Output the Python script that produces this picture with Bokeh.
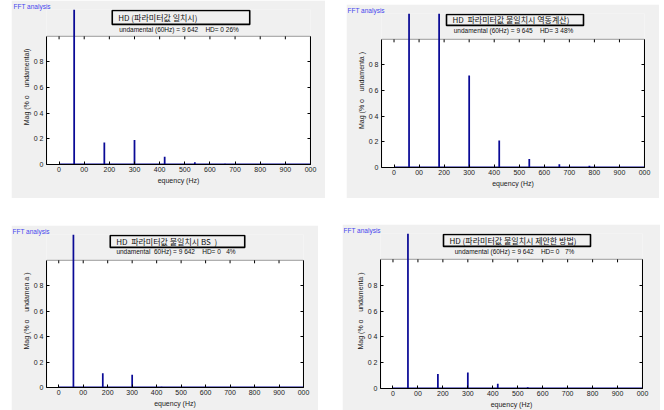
from bokeh.plotting import figure
from bokeh.models import Range1d, LinearAxis, FixedTicker, BoxAnnotation, Label, Spacer
from bokeh.layouts import row, column
from bokeh.embed import file_html
from bokeh.resources import INLINE

# ---------------- data ----------------
x_ticks = [0, 100, 200, 300, 400, 500, 600, 700, 800, 900, 1000]
x_tick_labels = ["0", "00", "200", "300", "400", "500", "600", "700", "800", "900", "000"]
y_ticks = [0, 0.2, 0.4, 0.6, 0.8]
y_tick_labels = ["0", "0 2", "0 4", "0 6", "0 8"]

harmonic_freqs = [60, 180, 300, 420, 540, 660, 780]
mag_p1 = [100, 0.171, 0.192, 0.060, 0.018, 0.005, 0.003]
mag_p2 = [100, 3.4, 0.718, 0.210, 0.067, 0.026, 0.013]
mag_p3 = [100, 0.112, 0.100, 0.006, 0.003, 0.002, 0.002]
mag_p4 = [100, 0.113, 0.123, 0.036, 0.010, 0.004, 0.003]

floor_span = [0, 1000]
floor_p1 = 0.008
floor_p2 = 0.008
floor_p3 = 0.008
floor_p4 = 0.008

titles = ["HD (파라미터값 일치시)",
          "HD  파라미터값 불일치시 역동계산)",
          "HD  파라미터값 불일치시 BS  )",
          "HD (파라미터값 불일치시 제안한 방법)"]
subtitles = ["undamental (60Hz) = 9 642    HD= 0 26%",
             "undamental (60Hz) = 9 645    HD= 3 48%",
             "undamental  60Hz) = 9 642    HD= 0   4%",
             "undamental (60Hz) = 9 642    HD= 0   7%"]
y_labels = ["Mag (% o    undamental)",
            "Mag (% o    undamenta )",
            "Mag (% o    undamen a )",
            "Mag (% o    undamenta )"]
x_label = "equency (Hz)"
group_label = "FFT analysis"

# ---------------- styling / geometry ----------------
PANEL_BG = "#f0f0f0"
BAR_COLOR = "#0a0a96"
LABEL_BLUE = "#4646ee"
FONT = "Liberation Sans"
KFONT = "Noto Sans CJK KR"
X0, X1 = -50, 1000


def keep_spaces(s):
    # keep runs of spaces visible in SVG text
    return s.replace("  ", " \u00a0")


# canvas (left, top, right, bottom), frame (left, top, right, bottom), y=1 pixel,
# title box (l, t, r, b), subtitle (cx, cy)
geoms = [
    dict(c=(11, 0, 325, 198), f=(45, 8, 310, 164), y1=35, box=(111, 9, 249, 23), sub=(178, 28)),
    dict(c=(346, 4, 659, 198), f=(381, 12, 644, 167), y1=38, box=(446, 13, 583, 24), sub=(513, 29)),
    dict(c=(11, 225, 318, 410), f=(46, 233, 304, 387), y1=259, box=(110, 234, 245, 246), sub=(176, 250)),
    dict(c=(342, 224, 660, 410), f=(380, 232, 642, 388), y1=258, box=(443, 233, 590, 245), sub=(514, 250)),
]


def make_panel(i, mags, floor):
    g = geoms[i]
    cl, ct, cr, cb = g["c"]
    fl, ft, fr, fb = g["f"]
    ppu = fb - g["y1"]

    def px2x(px):
        return X0 + (px - fl) / (fr - fl) * (X1 - X0)

    def px2y(py):
        return (fb - py) / ppu

    p = figure(width=cr - cl, height=cb - ct, output_backend="svg", toolbar_location=None,
               x_range=Range1d(X0, X1), y_range=Range1d(0, (fb - ft) / ppu),
               min_border_left=fl - cl, min_border_right=cr - fr,
               min_border_top=ft - ct, min_border_bottom=cb - fb,
               background_fill_color=PANEL_BG, border_fill_color=PANEL_BG,
               outline_line_color=None)
    p.grid.visible = False

    p.title.text = group_label
    p.title.align = "left"
    p.title.text_font = FONT
    p.title.text_font_size = "6.5px"
    p.title.text_font_style = "normal"
    p.title.text_color = LABEL_BLUE
    p.title.offset = -(fl - cl) + 1
    p.title.standoff = 0

    # white axes box
    p.add_layout(BoxAnnotation(left=X0, right=X1, bottom=0, top=1, fill_color="white",
                               fill_alpha=1, line_color="black", line_width=1.2, level="underlay"))

    # title box and texts
    bl, bt, br, bb = g["box"]
    p.add_layout(BoxAnnotation(left=px2x(bl), right=px2x(br), bottom=px2y(bb), top=px2y(bt),
                               fill_color=PANEL_BG, fill_alpha=1, line_color="black",
                               line_alpha=1, line_width=1.6, level="underlay"))
    p.add_layout(Label(x=px2x(bl + 6), y=px2y((bt + bb) / 2), text=keep_spaces(titles[i]),
                       text_font=KFONT, text_font_size="8px", text_baseline="middle",
                       text_align="left", text_color="#111111"))
    sx, sy = g["sub"]
    p.add_layout(Label(x=px2x(sx), y=px2y(sy), text=keep_spaces(subtitles[i]), text_font=FONT,
                       text_font_size="6.5px", text_baseline="middle", text_align="center",
                       text_color="#111111"))

    # data
    p.quad(left=[floor_span[0]], right=[floor_span[1]], bottom=[0], top=[floor],
           fill_color=BAR_COLOR, line_color=None)
    p.vbar(x=harmonic_freqs, top=mags, bottom=0, width=7, fill_color=BAR_COLOR,
           line_color=None)

    # top ticks
    tick_len = 3 / ppu
    p.segment(x0=x_ticks, y0=[1] * len(x_ticks), x1=x_ticks,
              y1=[1 - tick_len] * len(x_ticks), line_color="black", line_width=1)

    # axes
    xa = p.xaxis[0]
    xa.ticker = FixedTicker(ticks=x_ticks)
    xa.major_label_overrides = dict(zip(x_ticks, x_tick_labels))
    xa.axis_label = x_label
    ya = p.yaxis[0]
    ya.ticker = FixedTicker(ticks=y_ticks)
    ya.major_label_overrides = dict(zip(y_ticks, y_tick_labels))
    ya.axis_label = keep_spaces(y_labels[i])
    ya.bounds = (0, 1)
    for ax in (xa, ya):
        ax.major_tick_in = 3
        ax.major_tick_out = 0
        ax.minor_tick_in = 0
        ax.minor_tick_out = 0
        ax.axis_line_color = "black"
        ax.major_tick_line_color = "black"
        ax.major_label_text_font = FONT
        ax.major_label_text_font_size = "7px"
        ax.major_label_text_color = "#222222"
        ax.axis_label_text_font = FONT
        ax.axis_label_text_font_size = "7px"
        ax.axis_label_text_font_style = "normal"
        ax.axis_label_text_color = "#222222"
        ax.major_label_standoff = 2
        ax.axis_label_standoff = 2
    ya.major_label_standoff = 3
    ya.axis_label_standoff = 1

    ra = LinearAxis(ticker=FixedTicker(ticks=y_ticks), bounds=(0, 1))
    ra.major_tick_in = 3
    ra.major_tick_out = 0
    ra.minor_tick_in = 0
    ra.minor_tick_out = 0
    ra.major_label_text_font_size = "0px"
    ra.major_label_text_color = None
    ra.axis_line_color = "black"
    p.add_layout(ra, "right")
    return p


p1 = make_panel(0, mag_p1, floor_p1)
p2 = make_panel(1, mag_p2, floor_p2)
p3 = make_panel(2, mag_p3, floor_p3)
p4 = make_panel(3, mag_p4, floor_p4)

left_col = column(p1, Spacer(width=1, height=27), p3)
right_col = column(Spacer(width=1, height=4), row(Spacer(width=4, height=1), p2),
                   Spacer(width=1, height=26), p4)
layout = row(Spacer(width=11, height=1), left_col, Spacer(width=17, height=1), right_col)

open("out.html", "w").write(file_html(layout, INLINE))
